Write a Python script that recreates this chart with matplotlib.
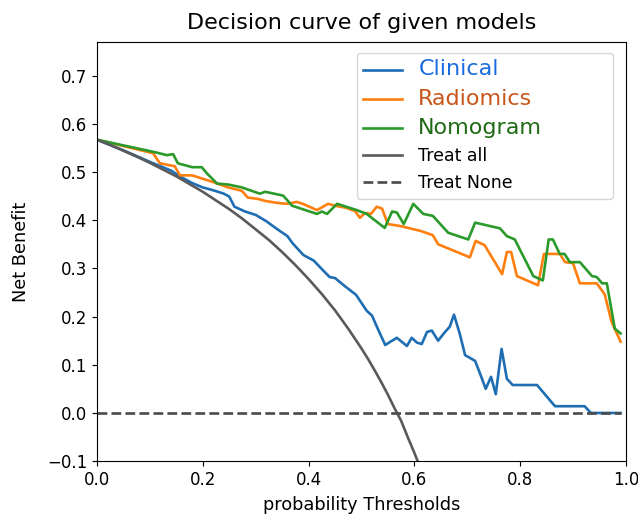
import matplotlib.pyplot as plt

# Values (threshold, net benefit)
clinical_x = [0.0, 0.05, 0.10, 0.12, 0.14, 0.16, 0.18, 0.20, 0.22, 0.24, 0.25, 0.26, 0.28, 0.30,
              0.32, 0.34, 0.36, 0.37, 0.39, 0.41, 0.43, 0.44, 0.45, 0.47, 0.49, 0.51, 0.52, 0.53,
              0.545, 0.555, 0.567, 0.586, 0.595, 0.605, 0.614, 0.624, 0.633, 0.645, 0.658, 0.667,
              0.675, 0.686, 0.696, 0.715, 0.728, 0.735, 0.745, 0.754, 0.765, 0.775, 0.786, 0.832,
              0.866, 0.922, 0.934, 0.99]
clinical_y = [0.567, 0.545, 0.521, 0.512, 0.503, 0.489, 0.477, 0.468, 0.462, 0.455, 0.449, 0.428,
              0.418, 0.411, 0.398, 0.382, 0.367, 0.352, 0.328, 0.316, 0.293, 0.282, 0.280, 0.262,
              0.245, 0.212, 0.202, 0.177, 0.141, 0.148, 0.156, 0.139, 0.156, 0.146, 0.143, 0.168,
              0.171, 0.150, 0.168, 0.179, 0.204, 0.164, 0.120, 0.108, 0.071, 0.050, 0.075, 0.039,
              0.133, 0.071, 0.058, 0.058, 0.014, 0.014, 0.0, 0.0]

radiomics_x = [0.0, 0.106, 0.119, 0.147, 0.157, 0.180, 0.217, 0.248, 0.274, 0.285, 0.305, 0.318,
               0.340, 0.359, 0.378, 0.389, 0.416, 0.437, 0.450, 0.470, 0.488, 0.497, 0.507, 0.518,
               0.529, 0.539, 0.550, 0.573, 0.611, 0.635, 0.645, 0.705, 0.716, 0.733, 0.766, 0.775,
               0.783, 0.794, 0.834, 0.845, 0.875, 0.885, 0.900, 0.913, 0.945, 0.960, 0.973, 0.99]
radiomics_y = [0.567, 0.539, 0.518, 0.512, 0.493, 0.493, 0.480, 0.468, 0.461, 0.447, 0.444, 0.440,
               0.436, 0.434, 0.438, 0.434, 0.421, 0.434, 0.430, 0.426, 0.419, 0.405, 0.415, 0.413,
               0.428, 0.424, 0.392, 0.388, 0.378, 0.369, 0.350, 0.323, 0.357, 0.348, 0.288, 0.334,
               0.334, 0.284, 0.265, 0.330, 0.330, 0.313, 0.311, 0.269, 0.269, 0.246, 0.189, 0.148]

nomogram_x = [0.0, 0.110, 0.132, 0.144, 0.153, 0.180, 0.198, 0.208, 0.227, 0.248, 0.274, 0.308,
              0.318, 0.352, 0.369, 0.416, 0.425, 0.435, 0.454, 0.491, 0.510, 0.544, 0.558, 0.567,
              0.580, 0.598, 0.617, 0.635, 0.664, 0.702, 0.715, 0.762, 0.775, 0.790, 0.825, 0.843,
              0.854, 0.862, 0.875, 0.884, 0.894, 0.913, 0.936, 0.945, 0.955, 0.964, 0.979, 0.99]
nomogram_y = [0.567, 0.541, 0.535, 0.537, 0.518, 0.510, 0.510, 0.497, 0.476, 0.474, 0.468, 0.455,
              0.459, 0.451, 0.430, 0.413, 0.418, 0.413, 0.434, 0.421, 0.413, 0.384, 0.418, 0.416,
              0.392, 0.434, 0.413, 0.409, 0.374, 0.360, 0.395, 0.383, 0.367, 0.360, 0.284, 0.275,
              0.360, 0.360, 0.330, 0.330, 0.313, 0.313, 0.284, 0.282, 0.269, 0.269, 0.175, 0.165]

treat_all_x = [0.0, 0.025, 0.05, 0.075, 0.10, 0.125, 0.15, 0.175, 0.20, 0.225, 0.25, 0.275,
               0.30, 0.325, 0.35, 0.375, 0.40, 0.425, 0.45, 0.475, 0.50, 0.5125, 0.525, 0.5375,
               0.55, 0.5625, 0.575, 0.5875, 0.60, 0.61]
treat_all_y = [0.567, 0.556, 0.544, 0.532, 0.519, 0.505, 0.491, 0.475, 0.459, 0.441, 0.423,
               0.403, 0.381, 0.359, 0.334, 0.307, 0.278, 0.247, 0.213, 0.175, 0.134, 0.112,
               0.0885, 0.064, 0.038, 0.010, -0.016, -0.050, -0.0825, -0.110]

treat_none_x = [0.0, 0.99]
treat_none_y = [0.0, 0.0]


def main():
    fig = plt.figure(figsize=(6.38, 5.17), dpi=100)
    ax = fig.add_axes([0.152, 0.108, 0.829, 0.811])

    ax.plot(clinical_x, clinical_y, color='#1f6eb4', lw=1.9, label='Clinical')
    ax.plot(radiomics_x, radiomics_y, color='#ff7f0e', lw=1.9, label='Radiomics')
    ax.plot(nomogram_x, nomogram_y, color='#2a9a2a', lw=1.9, label='Nomogram')
    ax.plot(treat_all_x, treat_all_y, color='#5a5a5a', lw=1.9, label='Treat all')
    ax.plot(treat_none_x, treat_none_y, color='#4a4a4a', lw=1.9, ls='--', label='Treat None')

    ax.set_xlim(0, 1)
    ax.set_ylim(-0.1, 0.77)
    ax.tick_params(labelsize=12)
    ax.set_title('Decision curve of given models', fontsize=16, pad=9)
    ax.set_xlabel('probability Thresholds', fontsize=12.8, labelpad=5)
    ax.set_ylabel('Net Benefit', fontsize=12.8, labelpad=12)

    leg = ax.legend(loc='upper left', bbox_to_anchor=(0.491, 0.974, 0.484, 0), mode='expand',
                    borderaxespad=0, fontsize=12, handlelength=2.3, handletextpad=1.0,
                    labelspacing=0.55)
    text_colors = ['#1a6be0', '#c8561a', '#1e6b14', 'black', 'black']
    text_sizes = [16, 16, 16, 12.5, 12.5]
    for txt, c, s in zip(leg.get_texts(), text_colors, text_sizes):
        txt.set_color(c)
        txt.set_fontsize(s)

    fig.savefig('out.png', dpi=100)


if __name__ == '__main__':
    main()
